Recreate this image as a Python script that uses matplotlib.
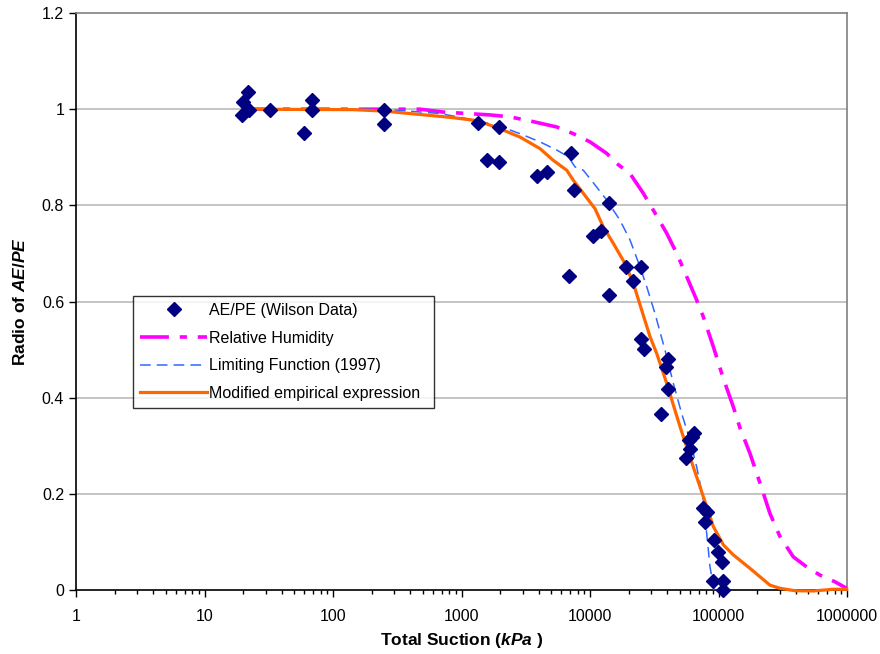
import numpy as np
import matplotlib
matplotlib.use("Agg")
import matplotlib.pyplot as plt
from matplotlib.ticker import LogLocator, FixedLocator, NullFormatter

plt.rcParams["font.family"] = ["Liberation Sans", "DejaVu Sans"]
plt.rcParams["mathtext.fontset"] = "custom"
plt.rcParams["mathtext.it"] = "Liberation Sans:bold:italic"
plt.rcParams["mathtext.rm"] = "Liberation Sans:bold"

# AE/PE (Wilson data) points
wilson_x = [21.9, 20.0, 22.3, 19.7, 32.3, 69, 69, 59.8, 251, 251,
            1337, 1968, 1579, 1968, 3849, 4655, 7115, 7505, 14060, 10500,
            12110, 18960, 24950, 21620, 6900, 13970, 24950, 26300,
            40260, 38820, 40260, 35700, 62000, 65000, 58910, 59700, 55860,
            75730, 80940, 78200, 92260, 98600, 106400, 90100, 108400, 108400]
wilson_y = [1.035, 1.015, 0.999, 0.988, 0.999, 1.019, 0.999, 0.951, 0.999, 0.970,
            0.972, 0.963, 0.895, 0.890, 0.860, 0.870, 0.909, 0.832, 0.805, 0.737,
            0.747, 0.672, 0.672, 0.642, 0.653, 0.614, 0.521, 0.502,
            0.481, 0.464, 0.417, 0.367, 0.318, 0.326, 0.312, 0.293, 0.274,
            0.170, 0.162, 0.142, 0.104, 0.078, 0.058, 0.019, 0.019, 0.0]

# Relative Humidity
rh_x = [20, 475, 722, 1667, 2384, 3620, 5510, 7420, 10000, 13490, 16140, 20480,
        26000, 31100, 39530, 47300, 58200, 67650, 76200, 91150, 109000, 130400,
        147000, 175800, 210500, 251600, 301000, 382000, 485500, 616000, 807000, 995000]
rh_y = [1.0, 1.0, 0.994, 0.988, 0.984, 0.974, 0.963, 0.949, 0.932, 0.908, 0.887, 0.866,
        0.825, 0.790, 0.742, 0.700, 0.644, 0.603, 0.568, 0.506, 0.440, 0.381,
        0.337, 0.284, 0.222, 0.159, 0.111, 0.069, 0.048, 0.031, 0.017, 0.0035]

# Limiting Function (1997)
lf_x = [20, 249, 680, 1337, 1968, 2853, 4080, 5510, 6780, 7640, 8870, 11270,
        13490, 17110, 20480, 24500, 27620, 32040, 38340, 44500, 51700, 60000,
        67650, 76200, 80900, 85900, 92300]
lf_y = [1.0, 1.0, 0.991, 0.976, 0.965, 0.949, 0.932, 0.915, 0.901, 0.880, 0.873, 0.838,
        0.811, 0.769, 0.728, 0.672, 0.631, 0.575, 0.499, 0.430, 0.367, 0.312,
        0.256, 0.187, 0.118, 0.048, 0.0]

# Modified empirical expression
me_x = [20, 143, 249, 814, 1337, 1958, 2853, 4080, 5152, 6590, 7420, 8870, 10940,
        12700, 15180, 18720, 21730, 25250, 29300, 33040, 39530, 50140, 63650, 76200,
        91150, 109000, 130400, 175800, 251600, 301000, 393800, 547000, 782000, 995000]
me_y = [1.0, 0.999, 0.996, 0.983, 0.976, 0.960, 0.942, 0.918, 0.894, 0.873, 0.852, 0.825, 0.793,
        0.755, 0.721, 0.679, 0.638, 0.582, 0.527, 0.492, 0.430, 0.340, 0.256, 0.194,
        0.132, 0.094, 0.073, 0.045, 0.010, 0.0035, -0.0015, -0.002, 0.0015, 0.0015]

fig = plt.figure(figsize=(8.8, 6.54), dpi=100)
ax = fig.add_axes([76 / 880, 1 - 590 / 654, 771 / 880, 577 / 654])

for yv in [0.2, 0.4, 0.6, 0.8, 1.0]:
    ax.axhline(yv, color="#BFBFBF", lw=1.3, zorder=0)

ax.plot(wilson_x, wilson_y, linestyle="none", marker="D", ms=7, color="#000080",
        label="AE/PE (Wilson Data)", zorder=5, clip_on=False)
ax.plot(rh_x, rh_y, color="#FF00FF", lw=2.6, dashes=(8, 3, 2, 3),
        label="Relative Humidity", zorder=3, clip_on=False)
ax.plot(lf_x, lf_y, color="#3366FF", lw=1.1, dashes=(7, 4),
        label="Limiting Function (1997)", zorder=3)
ax.plot(me_x, me_y, color="#FF6600", lw=2.3,
        label="Modified empirical expression", zorder=4, clip_on=False)

ax.set_xscale("log")
ax.set_xlim(1, 1e6)
ax.set_ylim(0, 1.2)
ax.xaxis.set_major_locator(FixedLocator([1, 10, 100, 1000, 1e4, 1e5, 1e6]))
ax.set_xticklabels(["1", "10", "100", "1000", "10000", "100000", "1000000"])
ax.xaxis.set_minor_locator(LogLocator(base=10, subs=np.arange(2, 10), numticks=20))
ax.xaxis.set_minor_formatter(NullFormatter())
ax.set_yticks([0, 0.2, 0.4, 0.6, 0.8, 1.0, 1.2])
ax.set_yticklabels(["0", "0.2", "0.4", "0.6", "0.8", "1", "1.2"])

ax.tick_params(axis="both", which="major", direction="out", length=5, width=1,
               labelsize=11.5, colors="black")
ax.tick_params(axis="x", which="minor", direction="out", length=3, width=1)
ax.tick_params(axis="x", pad=9)

for side in ["top", "right"]:
    ax.spines[side].set_color("#808080")
    ax.spines[side].set_linewidth(1.2)
for side in ["left", "bottom"]:
    ax.spines[side].set_color("black")
    ax.spines[side].set_linewidth(1.2)

ax.set_xlabel(r"Total Suction ($kPa$ )", fontsize=12.5, fontweight="bold", labelpad=5)
ax.set_ylabel(r"Radio of $AE/PE$", fontsize=12.5, fontweight="bold", labelpad=10)

leg = ax.legend(loc="lower left", bbox_to_anchor=(0.074, 0.315, 0.39, 0.205),
                mode="expand", fontsize=11.5, frameon=True, fancybox=False,
                handlelength=4.2, handletextpad=0.1, labelspacing=0.8,
                borderpad=0.45, borderaxespad=0)
leg.get_frame().set_edgecolor("black")
leg.get_frame().set_linewidth(1.0)

fig.savefig("out.png", dpi=100)
